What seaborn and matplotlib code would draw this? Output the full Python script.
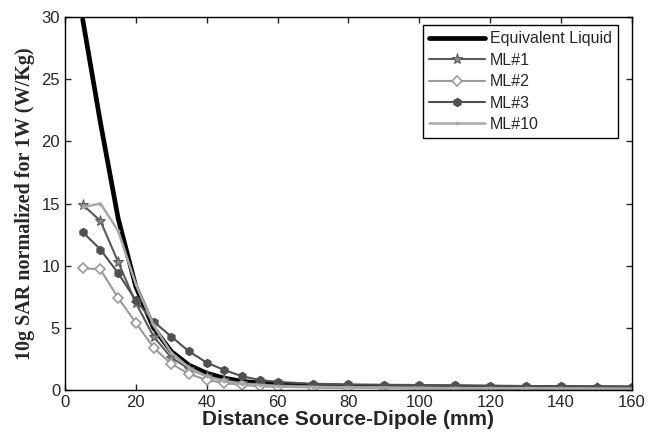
"""SAR decay with distance: equivalent liquid vs. multilayer phantoms."""

import matplotlib
matplotlib.use("Agg")
import matplotlib.pyplot as plt
import seaborn as sns

# distances (mm)
distance = [5, 10, 15, 20, 25, 30, 35, 40, 45, 50, 55, 60,
            70, 80, 90, 100, 110, 120, 130, 140, 150, 160]

# 10g SAR normalized for 1W (W/Kg)
sar_liquid = [29.8, 21.5, 13.8, 8.3, 5.0, 3.1, 2.0, 1.35, 0.95, 0.7, 0.55, 0.45,
              0.35, 0.3, 0.27, 0.25, 0.23, 0.22, 0.2, 0.2, 0.18, 0.17]
sar_ml1 = [14.9, 13.6, 10.3, 7.0, 4.3, 2.6, 1.7, 1.1, 0.8, 0.55, 0.45, 0.38,
           0.3, 0.26, 0.23, 0.2, 0.18, 0.17, 0.15, 0.14, 0.13, 0.12]
sar_ml2 = [9.8, 9.7, 7.4, 5.4, 3.4, 2.1, 1.3, 0.8, 0.55, 0.4, 0.3, 0.25,
           0.2, 0.17, 0.15, 0.14, 0.13, 0.12, 0.11, 0.1, 0.1, 0.1]
sar_ml3 = [12.7, 11.3, 9.4, 7.2, 5.5, 4.3, 3.1, 2.2, 1.6, 1.1, 0.8, 0.65,
           0.5, 0.45, 0.42, 0.4, 0.38, 0.35, 0.32, 0.3, 0.28, 0.25]
sar_ml10 = [14.7, 15.0, 12.8, 8.5, 5.2, 3.0, 1.8, 1.1, 0.7, 0.5, 0.4, 0.3,
            0.25, 0.22, 0.2, 0.18, 0.16, 0.15, 0.14, 0.13, 0.12, 0.11]

labels = ["Equivalent Liquid", "ML#1", "ML#2", "ML#3", "ML#10"]
x_ticks = list(range(0, 161, 20))
y_ticks = list(range(0, 31, 5))


def main() -> None:
    sns.set_style("ticks")
    plt.rcParams["font.family"] = ["Liberation Sans", "DejaVu Sans"]
    plt.rcParams["xtick.direction"] = "in"
    plt.rcParams["ytick.direction"] = "in"

    fig = plt.figure(figsize=(6.48, 4.36), dpi=100)
    ax = fig.add_axes([0.1003, 0.1055, 0.8750, 0.8555])

    sns.lineplot(x=distance, y=sar_liquid, ax=ax, color="black", linewidth=3.4,
                 label=labels[0])
    sns.lineplot(x=distance, y=sar_ml1, ax=ax, color="#5a5a5a", linewidth=1.5,
                 marker="*", markersize=8, markerfacecolor="#8a8a8a",
                 markeredgecolor="#5a5a5a", label=labels[1])
    sns.lineplot(x=distance, y=sar_ml2, ax=ax, color="#9a9a9a", linewidth=1.5,
                 marker="D", markersize=5, markerfacecolor="white",
                 markeredgecolor="#9a9a9a", markeredgewidth=1.2, label=labels[2])
    sns.lineplot(x=distance, y=sar_ml3, ax=ax, color="#505050", linewidth=1.5,
                 marker="h", markersize=6, markerfacecolor="#505050",
                 markeredgecolor="#505050", label=labels[3])
    sns.lineplot(x=distance, y=sar_ml10, ax=ax, color="#a8a8a8", linewidth=1.8,
                 marker=".", markersize=4, markerfacecolor="#a8a8a8",
                 markeredgecolor="#a8a8a8", label=labels[4])

    ax.set_xlim(0, 160)
    ax.set_ylim(0, 30)
    ax.set_xticks(x_ticks)
    ax.set_yticks(y_ticks)
    ax.tick_params(top=True, right=True, labelsize=12, length=4, width=1,
                   direction="in")
    for spine in ax.spines.values():
        spine.set_visible(True)
        spine.set_color("black")
        spine.set_linewidth(1.0)

    ax.set_xlabel("Distance Source-Dipole (mm)", fontsize=15,
                  fontweight="bold", labelpad=0)
    ax.set_ylabel("10g SAR normalized for 1W (W/Kg)", fontsize=14.5,
                  fontweight="bold", family=["Liberation Serif", "DejaVu Serif"],
                  labelpad=5)

    leg = ax.legend(loc="upper right", bbox_to_anchor=(0.9753, 0.9786),
                    borderaxespad=0, fontsize=11.5, frameon=True, fancybox=False,
                    edgecolor="black", framealpha=1, handlelength=3.5,
                    labelspacing=0.4, borderpad=0.4, handletextpad=0.3)
    leg.get_frame().set_linewidth(1.0)

    fig.savefig("out.png", dpi=100)
    plt.close(fig)


if __name__ == "__main__":
    main()
